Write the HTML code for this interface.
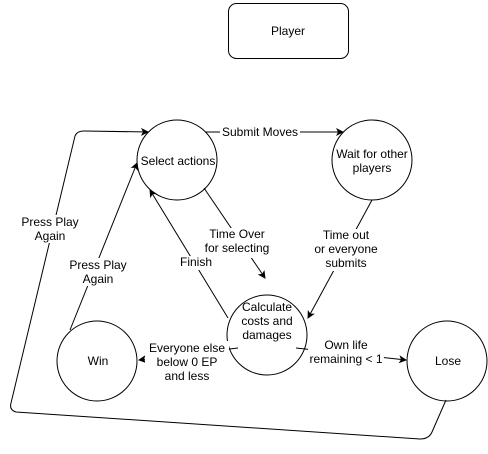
<!DOCTYPE html>
<html><head><style>
html,body{margin:0;padding:0;background:#fff;}
svg text{font-family:"Liberation Sans",sans-serif;font-size:12px;fill:#000;}
</style></head><body>
<svg width="488" height="449" viewBox="0 0 488 449" xmlns="http://www.w3.org/2000/svg">
<defs><marker id="a" markerWidth="8" markerHeight="8" refX="7" refY="4" orient="auto" markerUnits="userSpaceOnUse"><path d="M0,0 L8,4 L0,8 L2,4 z" fill="#000"/></marker></defs>
<g fill="#fff" stroke="#000" stroke-width="1">
<rect x="228.5" y="3.5" width="120" height="55" rx="8"/>
<circle cx="177" cy="160" r="40"/>
<circle cx="372" cy="160" r="40"/>
<circle cx="267" cy="335" r="40"/>
<circle cx="97" cy="361" r="40"/>
<circle cx="447" cy="361" r="40"/>
</g>
<g fill="none" stroke="#000" stroke-width="1">
<path d="M205,132 L343,132" marker-end="url(#a)"/>
<path d="M204,188 L265,278" marker-end="url(#a)"/>
<path d="M372,200 L308,318" marker-end="url(#a)"/>
<path d="M228,318 L150,190" marker-end="url(#a)"/>
<path d="M70,330 L137,163" marker-end="url(#a)"/>
<path d="M238,348 L139,360" marker-end="url(#a)"/>
<path d="M296,348 L406,360" marker-end="url(#a)"/>
<path d="M446,400 L432,432 Q429,439 420,439 L16,412 Q9,410 11,403 L75,136 Q77,131 84,131 L148,132" marker-end="url(#a)"/>
</g>
<g text-anchor="middle" fill="#000">
<text x="288" y="35">Player</text>
<text x="178" y="165">Select actions</text>
<text x="372" y="158">Wait for other</text>
<text x="372" y="172">players</text>
<text x="267" y="311">Calculate</text>
<text x="267" y="325">costs and</text>
<text x="267" y="339">damages</text>
<text x="98" y="365">Win</text>
<text x="448" y="365">Lose</text>
</g>
<g text-anchor="middle">
<rect x="220" y="125" width="80" height="14" fill="#fff"/>
<text x="260" y="136">Submit Moves</text>
<rect x="202" y="228" width="70" height="30" fill="#fff"/>
<text x="237" y="238">Time Over</text>
<text x="237" y="252">for selecting</text>
<rect x="312" y="229" width="68" height="42" fill="#fff"/>
<text x="346" y="239">Time out</text>
<text x="346" y="253">or everyone</text>
<text x="346" y="267">submits</text>
<rect x="179" y="256" width="34" height="14" fill="#fff"/>
<text x="196" y="266">Finish</text>
<rect x="66" y="258" width="64" height="28" fill="#fff"/>
<text x="98" y="269">Press Play</text>
<text x="98" y="283">Again</text>
<rect x="18" y="215" width="64" height="28" fill="#fff"/>
<text x="50" y="226">Press Play</text>
<text x="50" y="240">Again</text>
<rect x="145" y="341" width="84" height="42" fill="#fff"/>
<text x="187" y="352">Everyone else</text>
<text x="187" y="366">below 0 EP</text>
<text x="187" y="380">and less</text>
<rect x="308" y="338" width="76" height="28" fill="#fff"/>
<text x="346" y="349">Own life</text>
<text x="346" y="363">remaining &lt; 1</text>
</g>
</svg>
</body></html>
